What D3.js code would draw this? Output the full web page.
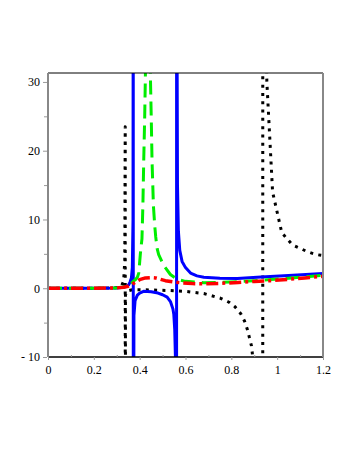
<!DOCTYPE html>
<html>
<head>
<meta charset="utf-8">
<script src="https://cdn.jsdelivr.net/npm/d3@7"></script>
<style>
  body { margin: 0; background: #fff; }
  svg { display: block; }
</style>
</head>
<body>
<script>
var width = 354,
    height = 458;

var margin = {left: 48, right: 31, top: 73, bottom: 101};

// tick values
var xTicks = [0, 0.2, 0.4, 0.6, 0.8, 1, 1.2];
var xTickLabels = ["0", "0.2", "0.4", "0.6", "0.8", "1", "1.2"];
var yTicks = [-10, 0, 10, 20, 30];
var yTickLabels = ["- 10", "0", "10", "20", "30"];

// black dotted curve
var blackX = [0, 0.1, 0.2, 0.25, 0.3, 0.32, 0.33, 0.335, 0.337, 0.3372, 0.338, 0.345, 0.37, 0.45, 0.534, 0.607, 0.68, 0.753, 0.79, 0.816, 0.841, 0.858, 0.87, 0.879, 0.888, 0.895, 0.92, 0.937, 0.9372, 0.955, 0.98, 1.02, 1.04, 1.067, 1.133, 1.17, 1.2];
var blackY = [0, 0, 0, 0.02, 0.1, 0.3, 1, 4, 23.5, -200, -1.0, -0.4, -0.2, -0.25, -0.34, -0.48, -0.77, -1.46, -2.04, -2.7, -3.7, -4.8, -6.0, -7.2, -8.4, -10.5, -25, -60, 60, 30, 14, 8.1, 7.3, 6.3, 5.3, 4.9, 4.75];

// blue solid curve
var blueX = [0, 0.1, 0.2, 0.3, 0.33, 0.345, 0.352, 0.358, 0.364, 0.368, 0.371, 0.372, 0.3722, 0.375, 0.38, 0.39, 0.4, 0.417, 0.45, 0.48, 0.5, 0.52, 0.535, 0.545, 0.549, 0.553, 0.556, 0.558, 0.561, 0.5612, 0.565, 0.569, 0.575, 0.585, 0.6, 0.622, 0.65, 0.68, 0.75, 0.826, 0.93, 1.05, 1.2];
var blueY = [0, 0, 0, 0.05, 0.15, 0.3, 0.5, 0.9, 1.5, 3, 10, 60, -60, -4, -1.8, -1.0, -0.7, -0.45, -0.5, -0.7, -0.95, -1.3, -2.0, -3.0, -3.8, -6, -10, -16, -60, 60, 15, 8.3, 5.5, 3.9, 3.0, 2.2, 1.8, 1.6, 1.45, 1.4, 1.65, 1.85, 2.15];

// green dashed curve
var greenX = [0, 0.1, 0.2, 0.3, 0.33, 0.35, 0.366, 0.38, 0.39, 0.396, 0.403, 0.41, 0.414, 0.418, 0.422, 0.425, 0.43, 0.436, 0.441, 0.447, 0.451, 0.454, 0.46, 0.466, 0.47, 0.476, 0.483, 0.505, 0.534, 0.563, 0.6, 0.68, 0.75, 0.83, 0.9, 0.97, 1.05, 1.12, 1.2];
var greenY = [0, 0, 0, 0.05, 0.2, 0.45, 0.8, 1.2, 1.6, 2.2, 5.0, 7.2, 12, 19, 25, 31, 60, 200, 60, 30.6, 24, 18.5, 12, 9, 7.5, 5.8, 4.9, 3.3, 2.0, 1.3, 1.0, 0.8, 0.85, 0.95, 1.1, 1.27, 1.45, 1.65, 1.9];

// red dash-dot curve
var redX = [0, 0.1, 0.2, 0.3, 0.33, 0.35, 0.366, 0.38, 0.4, 0.425, 0.45, 0.469, 0.512, 0.55, 0.585, 0.63, 0.68, 0.75, 0.83, 0.9, 0.97, 1.05, 1.12, 1.2];
var redY = [0, 0, 0, 0.05, 0.15, 0.3, 0.55, 0.85, 1.25, 1.5, 1.55, 1.5, 1.1, 0.9, 0.77, 0.68, 0.63, 0.7, 0.85, 0.98, 1.1, 1.3, 1.5, 1.75];

var x = d3.scaleLinear()
    .domain([0, 1.2])
    .range([margin.left, width - margin.right]);

var y = d3.scaleLinear()
    .domain([-10, 31.3])
    .range([height - margin.bottom, margin.top]);

var svg = d3.select("body").append("svg")
    .attr("width", width)
    .attr("height", height);

svg.append("clipPath")
    .attr("id", "plotclip")
  .append("rect")
    .attr("x", margin.left)
    .attr("y", margin.top)
    .attr("width", width - margin.left - margin.right)
    .attr("height", height - margin.top - margin.bottom);

var line = d3.line()
    .x(function(d) { return x(d[0]); })
    .y(function(d) { return y(d[1]); });

function zip(xs, ys) {
  return xs.map(function(v, i) { return [v, ys[i]]; });
}

var series = [
  {pts: zip(blackX, blackY), color: "#000000", w: 3, dash: "3,5.3"},
  {pts: zip(blueX, blueY), color: "#0000ff", w: 3, dash: null},
  {pts: zip(greenX, greenY), color: "#00ee00", w: 3, dash: "14,7"},
  {pts: zip(redX, redY), color: "#ff0000", w: 3.5, dash: "12,4,3,4"}
];

var plot = svg.append("g").attr("clip-path", "url(#plotclip)");

series.forEach(function(s) {
  plot.append("path")
      .datum(s.pts)
      .attr("d", line)
      .attr("fill", "none")
      .attr("stroke", s.color)
      .attr("stroke-width", s.w)
      .attr("stroke-dasharray", s.dash)
      .attr("stroke-linejoin", "round");
});

// frame
var x0 = x(0), x1 = x(1.2), yb = y(-10), yt = y(31.3);
svg.append("line").attr("x1", x0).attr("x2", x1).attr("y1", yt).attr("y2", yt)
    .attr("stroke", "#000").attr("stroke-width", 1);
svg.append("line").attr("x1", x0).attr("x2", x1).attr("y1", yb).attr("y2", yb)
    .attr("stroke", "#000").attr("stroke-width", 1.5);
svg.append("line").attr("x1", x0).attr("x2", x0).attr("y1", yt).attr("y2", yb)
    .attr("stroke", "#888").attr("stroke-width", 2);
svg.append("line").attr("x1", x1).attr("x2", x1).attr("y1", yt).attr("y2", yb)
    .attr("stroke", "#888").attr("stroke-width", 2);

// y axis
var yAxis = d3.axisLeft(y)
    .tickValues(yTicks)
    .tickSize(4)
    .tickPadding(3)
    .tickFormat(function(d, i) { return yTickLabels[i]; });

var gy = svg.append("g")
    .attr("transform", "translate(" + (x0 - 1) + ",0)")
    .call(yAxis);
gy.select(".domain").remove();

var gyMinor = svg.append("g")
    .attr("transform", "translate(" + (x0 - 1) + ",0)")
    .call(d3.axisLeft(y).tickValues([-5, 5, 15, 25]).tickSize(3).tickFormat(""));
gyMinor.select(".domain").remove();

// x axis
var xAxis = d3.axisBottom(x)
    .tickValues(xTicks)
    .tickSize(3)
    .tickPadding(5)
    .tickFormat(function(d, i) { return xTickLabels[i]; });

var gx = svg.append("g")
    .attr("transform", "translate(0," + yb + ")")
    .call(xAxis);
gx.select(".domain").remove();

var gxMinor = svg.append("g")
    .attr("transform", "translate(0," + yb + ")")
    .call(d3.axisTop(x).tickValues([0.1, 0.3, 0.5, 0.7, 0.9, 1.1]).tickSize(2).tickFormat(""));
gxMinor.select(".domain").remove();

svg.selectAll(".tick line").attr("stroke", "#999");
svg.selectAll(".tick text")
    .attr("font-family", "'Liberation Serif', 'DejaVu Serif', serif")
    .attr("font-size", 12)
    .attr("fill", "#000");
</script>
</body>
</html>
